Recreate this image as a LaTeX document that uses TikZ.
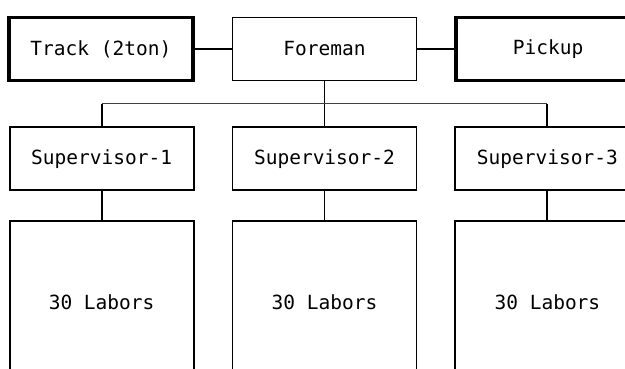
\documentclass[tikz,border=0pt]{standalone}
\usepackage{fontspec}
\setmainfont{DejaVu Sans Mono}
\usepackage{tikz}
\usetikzlibrary{positioning,calc}
\tikzset{
    %Define style for boxes
    post/.style={
           rectangle,
           draw=black, line width=1.9pt,
           minimum width=184pt,
           minimum height=63pt,
           inner sep=0pt,
           font=\fontsize{19.5}{22}\selectfont,
           text centered},
    vehicle/.style={
           post,
           line width=3.4pt},
    crew/.style={
           post,
           minimum height=162pt},
    % Define line style
    link/.style={
           line width=1.9pt},
    bus/.style={
           line width=1.1pt,
           draw=black!75}
}
\begin{document}
\begin{tikzpicture}[x=1pt,y=1pt,node distance=37pt]
\useasboundingbox (0,0) rectangle (625,369);
\clip (0,0) rectangle (625,369);
 %nodes
\node[post](foreman) at (324.5,320){Foreman};
\node[vehicle, left=of foreman](track){Track (2ton)};
\node[vehicle, right=of foreman](pickup){Pickup};
\node[post, below=45pt of foreman](sup2){Supervisor-2};
\node[post, left=of sup2](sup1){Supervisor-1};
\node[post, right=of sup2](sup3){Supervisor-3};
\node[crew, below=29pt of sup1](lab1){30 Labors};
\node[crew, below=29pt of sup2](lab2){30 Labors};
\node[crew, below=29pt of sup3](lab3){30 Labors};
\coordinate (bus) at ($(foreman.south)!0.5!(sup2.north)$);
 %connectors
\path[link]
    (track.east) edge (foreman.west)
    (foreman.east) edge (pickup.west)
    (foreman.south) edge (sup2.north)
    (sup1.south) edge (lab1.north)
    (sup2.south) edge (lab2.north)
    (sup3.south) edge (lab3.north);
\draw[link] (sup1.north) -- (sup1 |- bus);
\draw[link] (sup3.north) -- (sup3 |- bus);
\draw[bus] (sup1 |- bus) -- (sup3 |- bus);
\end{tikzpicture}
\end{document}
